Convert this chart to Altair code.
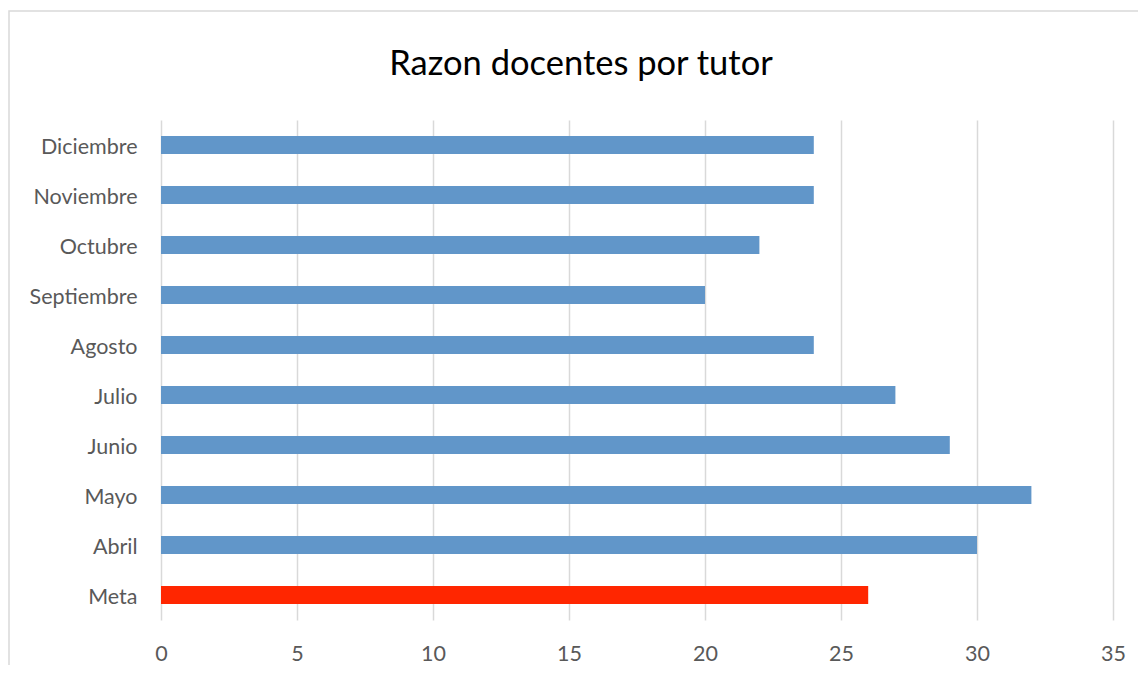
import altair as alt
import pandas as pd

categories = ["Diciembre", "Noviembre", "Octubre", "Septiembre", "Agosto",
              "Julio", "Junio", "Mayo", "Abril", "Meta"]
values = [24, 24, 22, 20, 24, 27, 29, 32, 30, 26]
kinds = ["Mes"] * 9 + ["Meta"]
x_ticks = [0, 5, 10, 15, 20, 25, 30, 35]
title_text = "Razon docentes por tutor"

df = pd.DataFrame({"mes": categories, "valor": values, "tipo": kinds})

FONT = "Lato"

bars = alt.Chart(df).mark_bar().encode(
    y=alt.Y("mes:N", sort=categories, title=None,
            scale=alt.Scale(paddingInner=0.64, paddingOuter=0.32),
            axis=alt.Axis(ticks=False, domain=False, labelPadding=24,
                          labelOffset=3,
                          labelFontSize=21.5, labelColor="#595959", labelFont=FONT,
                          grid=False)),
    x=alt.X("valor:Q", title=None,
            scale=alt.Scale(domain=[0, 35], nice=False),
            axis=alt.Axis(values=x_ticks, ticks=False, domain=False,
                          labelFlush=False,
                          labelPadding=23, labelFontSize=21.5, labelColor="#595959",
                          labelFont=FONT, grid=True, gridColor="#d9d9d9",
                          gridWidth=1.5)),
    color=alt.Color("tipo:N", legend=None,
                    scale=alt.Scale(domain=["Mes", "Meta"],
                                    range=["#6196C9", "#FF2600"])),
)

border = alt.Chart(pd.DataFrame({"a": [0]})).mark_rect(
    fill=None, stroke="#d9d9d9", strokeWidth=1.5, clip=False
).encode(
    x=alt.value(-152), x2=alt.value(1100),
    y=alt.value(-109), y2=alt.value(700),
)

title = alt.Chart(pd.DataFrame({"t": [title_text]})).mark_text(
    font=FONT, fontSize=34.5, color="#000000", align="center",
    baseline="middle", clip=False
).encode(
    text="t:N", x=alt.value(420), y=alt.value(-55),
)

chart = alt.layer(border, bars, title).properties(
    width=952, height=500,
    padding={"left": 153, "top": 112, "right": 25, "bottom": 45},
    autosize=alt.AutoSizeParams(type="none"),
).configure_view(stroke=None)

chart.save("out.html", embed_options={"renderer": "svg", "actions": False})
